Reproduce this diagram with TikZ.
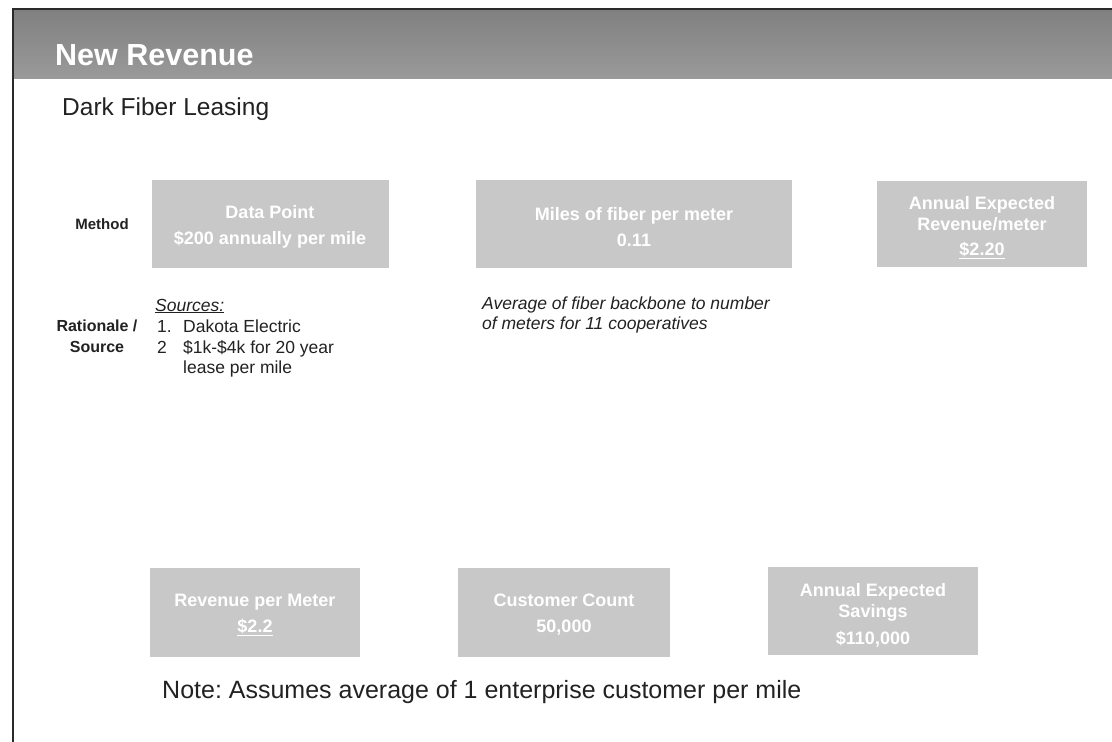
\documentclass[tikz,border=0pt]{standalone}
\usepackage{fontspec}
\setmainfont{Liberation Sans}
\frenchspacing
\definecolor{bandtop}{HTML}{808080}
\definecolor{bandbot}{HTML}{9A9A9A}
\definecolor{boxgray}{HTML}{C8C8C8}
\definecolor{framecol}{HTML}{2A2A2A}
\definecolor{txt}{HTML}{222222}
\begin{document}
\begin{tikzpicture}[x=1pt,y=-1pt,
  box/.style={fill=boxgray, draw=none, inner sep=0pt},
  boxtext/.style={text=white, align=center, inner sep=0pt, yshift=-3pt,
    font=\bfseries\fontsize{18}{26}\selectfont},
  boxtext3/.style={boxtext, yshift=-1pt, font=\bfseries\fontsize{18}{21}\selectfont},
  lab/.style={inner sep=0pt, anchor=base, text=txt, font=\bfseries\fontsize{16}{20}\selectfont},
  body/.style={inner sep=0pt, anchor=base west, text=txt, font=\fontsize{17.5}{21}\selectfont},
  ital/.style={body, font=\itshape\fontsize{17.5}{21}\selectfont}]
\useasboundingbox (0,0) rectangle (1112,742);
\fill[white] (0,0) rectangle (1112,742);
% header band
\shade[top color=bandtop, bottom color=bandbot] (13,10) rectangle (1112,78);
\draw[framecol, line width=2pt] (13,742) -- (13,9) -- (1112,9);
\node[anchor=base west, inner sep=0pt, text=white, font=\bfseries\fontsize{30.5}{32}\selectfont] (title) at (55,65) {New Revenue};
\node[anchor=base west, inner sep=0pt, text=txt, font=\fontsize{24.5}{28}\selectfont] (sub) at (62,115) {Dark Fiber Leasing};
% row labels
\node[lab, font=\bfseries\fontsize{15}{20}\selectfont] (method) at (102,229) {Method};
\node[lab] (rat1) at (97,331) {Rationale /};
\node[lab] (rat2) at (97,352) {Source};
% top boxes
\node[box, minimum width=237pt, minimum height=88pt] (b1) at (270,224) {};
\node[boxtext] (t1) at (b1.center) {Data Point\\\$200 annually per mile};
\node[box, minimum width=316pt, minimum height=88pt] (b2) at (634,224) {};
\node[boxtext] (t2) at (b2.center) {Miles of fiber per meter\\0.11};
\node[box, minimum width=210pt, minimum height=86pt] (b3) at (982,224) {};
\node[boxtext3] (t3) at (b3.center) {Annual Expected\\Revenue/meter\\[4pt]\underline{\$2.20}};
% sources
\node[ital] (src) at (155,311) {\underline{Sources:}};
\node[body] (n1) at (157,332) {1.};
\node[body] (s1) at (183,332) {Dakota Electric};
\node[body] (n2) at (157,353) {2};
\node[body] (s2) at (183,353) {\$1k-\$4k for 20 year};
\node[body] (s3) at (183,373) {lease per mile};
\node[ital] (avg1) at (482,309) {Average of fiber backbone to number};
\node[ital] (avg2) at (482,329) {of meters for 11 cooperatives};
% bottom boxes
\node[box, minimum width=210pt, minimum height=89pt] (b4) at (255,612) {};
\node[boxtext] (t4) at (b4.center) {Revenue per Meter\\\underline{\$2.2}};
\node[box, minimum width=212pt, minimum height=89pt] (b5) at (564,612) {};
\node[boxtext] (t5) at (b5.center) {Customer Count\\50,000};
\node[box, minimum width=210pt, minimum height=88pt] (b6) at (873,611) {};
\node[boxtext3] (t6) at (b6.center) {Annual Expected\\Savings\\[6pt]\$110,000};
\node[anchor=base west, inner sep=0pt, text=txt, font=\fontsize{25}{28}\selectfont] (note) at (162,698) {Note: Assumes average of 1 enterprise customer per mile};
\end{tikzpicture}
\end{document}
